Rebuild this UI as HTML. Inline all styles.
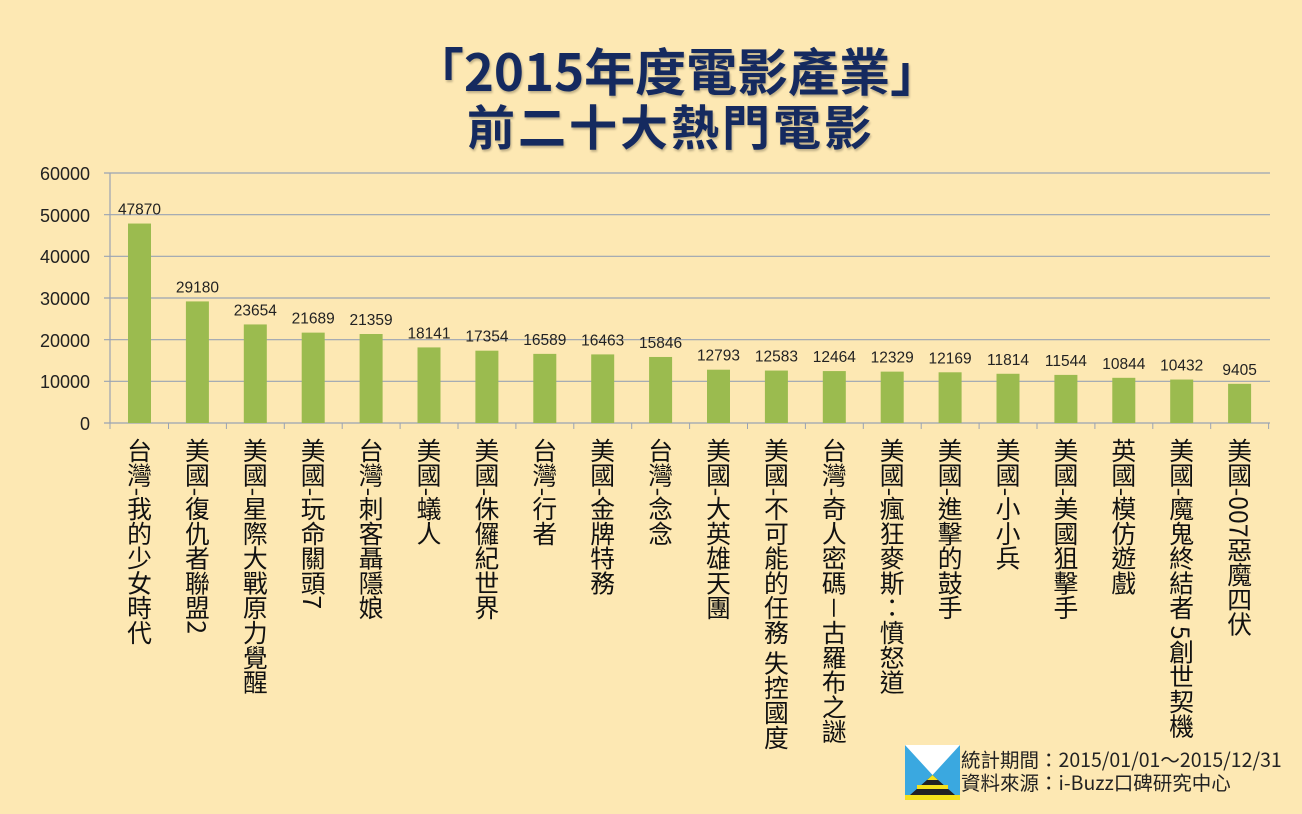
<!DOCTYPE html>
<html><head><meta charset="utf-8"><style>
html,body{margin:0;padding:0}
body{width:1302px;height:814px;background:#fde8b3;position:relative;overflow:hidden;font-family:"Liberation Sans","Noto Sans CJK TC",sans-serif}
.t{position:absolute;left:0;width:1302px;text-align:center;color:#152a5f;font-weight:bold;font-family:"Noto Sans CJK TC",sans-serif;font-size:51px;line-height:1;text-shadow:1px 2px 2px rgba(0,0,0,.25)}
.lab{position:absolute;top:438px;writing-mode:vertical-rl;font-family:"Noto Sans CJK TC",sans-serif;font-size:24.8px;line-height:24px;color:#111;white-space:nowrap}
.note{position:absolute;left:961px;font-family:"Noto Sans CJK TC",sans-serif;font-size:19.5px;color:#222;line-height:22px}
</style></head><body>
<div class="t" style="top:44px;left:26px">「2015年度電影產業」</div>
<div class="t" style="top:100px;left:20px;font-size:48px;letter-spacing:3px">前二十大熱門電影</div>
<svg width="1302" height="814" style="position:absolute;left:0;top:0">
<g stroke="#9aa3b3" stroke-width="1.2">
<line x1="104" y1="173" x2="1270" y2="173"/><line x1="104" y1="214.7" x2="1270" y2="214.7"/>
<line x1="104" y1="256.3" x2="1270" y2="256.3"/><line x1="104" y1="298" x2="1270" y2="298"/>
<line x1="104" y1="339.7" x2="1270" y2="339.7"/><line x1="104" y1="381.3" x2="1270" y2="381.3"/>
<line x1="104" y1="423" x2="1270" y2="423"/><line x1="110" y1="173" x2="110" y2="423"/>
</g>
<g font-family="Liberation Sans,sans-serif" font-size="18" fill="#222" text-anchor="end">
<text x="90" y="180">60000</text><text x="90" y="222">50000</text><text x="90" y="263">40000</text>
<text x="90" y="305">30000</text><text x="90" y="347">20000</text><text x="90" y="388">10000</text><text x="90" y="430">0</text>
</g>
<g id="bars"></g>
</svg>
<div id="labs"></div>
<svg width="55" height="55" style="position:absolute;left:905px;top:745px" viewBox="0 0 55 55">
<rect width="55" height="55" fill="#3aa8e0"/><polygon points="0,0 55,0 27.5,30" fill="#fff"/>
<polygon points="27.5,30 5,50 50,50" fill="#222"/><polygon points="27.5,30 22,35 33,35" fill="#f4e11c"/>
<rect x="12" y="40" width="31" height="4" fill="#f4e11c"/><rect x="0" y="50" width="55" height="5" fill="#f4e11c"/>
</svg>
<div class="note" style="top:748px">統計期間：2015/01/01～2015/12/31</div>
<div class="note" style="top:771px">資料來源：i-Buzz口碑研究中心</div>
<script>
var d=[["台灣-我的少女時代",47870],["美國-復仇者聯盟2",29180],["美國-星際大戰原力覺醒",23654],["美國-玩命關頭7",21689],["台灣-刺客聶隱娘",21359],["美國-蟻人",18141],["美國-侏儸紀世界",17354],["台灣-行者",16589],["美國-金牌特務",16463],["台灣-念念",15846],["美國-大英雄天團",12793],["美國-不可能的任務 失控國度",12583],["台灣-奇人密碼－古羅布之謎",12464],["美國-瘋狂麥斯：憤怒道",12329],["美國-進擊的鼓手",12169],["美國-小小兵",11814],["美國-美國狙擊手",11544],["英國-模仿遊戲",10844],["美國-魔鬼終結者 5創世契機",10432],["美國-007惡魔四伏",9405]];
var g="",h="";
for(var i=0;i<20;i++){var cx=139.5+i*57.9,y=423-d[i][1]*250/60000;
g+='<rect x="'+(cx-11.5)+'" y="'+y+'" width="23" height="'+(423-y)+'" fill="#9bbb4f"/>';
g+='<line x1="'+(cx+29)+'" y1="423" x2="'+(cx+29)+'" y2="429" stroke="#9aa3b3"/>';
g+='<text x="'+cx+'" y="'+(y-9)+'" font-size="15.5" font-family="Liberation Sans,sans-serif" fill="#222" text-anchor="middle">'+d[i][1]+'</text>';
h+='<div class="lab" style="left:'+(cx-12)+'px">'+d[i][0]+'</div>';}
g+='<line x1="110" y1="423" x2="110" y2="429" stroke="#9aa3b3"/>';
document.getElementById("bars").innerHTML=g;
document.getElementById("labs").innerHTML=h;
</script>
</body></html>
